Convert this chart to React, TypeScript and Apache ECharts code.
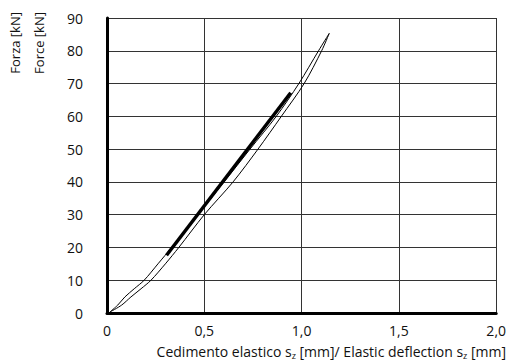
import React, { useEffect, useRef } from "react";
import * as echarts from "echarts";

const xTicks = ["0", "0,5", "1,0", "1,5", "2,0"];
const yTicks = [0, 10, 20, 30, 40, 50, 60, 70, 80, 90];

const loadX = [0.015, 0.075, 0.123, 0.175, 0.226, 0.3, 0.369, 0.5, 0.648, 0.776, 0.896, 1.013, 1.103, 1.142];
const loadY = [0.3, 2.4, 4.9, 7.4, 10, 15, 20, 30, 40, 50, 60, 70, 80, 85.3];

const unloadX = [1.142, 1.087, 0.986, 0.87, 0.735, 0.602, 0.468, 0.332, 0.262, 0.191, 0.14, 0.092, 0.055, 0.015];
const unloadY = [85.3, 80, 70, 60, 50, 40, 30, 20, 15, 10, 7.4, 4.9, 2.4, 0.3];

const thickX = [0.306, 0.944];
const thickY = [17.6, 67.2];

const FONT = "Open Sans";

export default function App() {
  const ref = useRef<HTMLDivElement>(null);
  useEffect(() => {
    if (!ref.current) return;
    const chart = echarts.init(ref.current, undefined, { renderer: "svg" });
    const zip = (xs: number[], ys: number[]) => xs.map((x, i) => [x, ys[i]]);
    chart.setOption({
      animation: false,
      backgroundColor: "#fff",
      textStyle: { fontFamily: FONT },
      grid: { left: 107, right: 12, top: 18, bottom: 48 },
      xAxis: {
        type: "value",
        min: 0,
        max: 2,
        interval: 0.5,
        axisLine: { show: true, lineStyle: { color: "#000", width: 3 } },
        axisTick: { show: false },
        axisLabel: {
          color: "#111",
          fontSize: 14,
          fontFamily: FONT,
          margin: 10,
          formatter: (v: number) => xTicks[Math.round(v / 0.5)] ?? "",
        },
        splitLine: { show: true, lineStyle: { color: "#333", width: 1 } },
      },
      yAxis: {
        type: "value",
        min: 0,
        max: 90,
        interval: 10,
        axisLine: { show: true, lineStyle: { color: "#000", width: 3 } },
        axisTick: { show: false },
        axisLabel: {
          color: "#111",
          fontSize: 14,
          fontFamily: FONT,
          margin: 24,
          formatter: (v: number) => (yTicks.includes(v) ? String(v) : ""),
        },
        splitLine: { show: true, lineStyle: { color: "#333", width: 1 } },
      },
      graphic: [
        {
          type: "text",
          x: 506,
          y: 351,
          style: {
            text: "{n|Cedimento elastico s}{s|z}{n| [mm]/ Elastic deflection s}{s|z}{n| [mm]}",
            align: "right",
            verticalAlign: "middle",
            fill: "#111",
            fontFamily: FONT,
            rich: {
              n: { fontSize: 14, fontFamily: FONT, fill: "#111", lineHeight: 17 },
              s: { fontSize: 9, fontFamily: FONT, fill: "#111", padding: [8, 0, 0, 0] },
            },
          },
        },
        {
          type: "text",
          x: 15,
          y: 12,
          rotation: Math.PI / 2,
          style: {
            text: "Forza [kN]",
            align: "right",
            verticalAlign: "middle",
            fontSize: 13,
            fontFamily: FONT,
            fill: "#111",
          },
        },
        {
          type: "text",
          x: 39,
          y: 12,
          rotation: Math.PI / 2,
          style: {
            text: "Force [kN]",
            align: "right",
            verticalAlign: "middle",
            fontSize: 13,
            fontFamily: FONT,
            fill: "#111",
          },
        },
      ],
      series: [
        {
          type: "line",
          data: zip(loadX, loadY),
          showSymbol: false,
          smooth: 0.3,
          lineStyle: { color: "#000", width: 1 },
        },
        {
          type: "line",
          data: zip(unloadX, unloadY),
          showSymbol: false,
          smooth: 0.3,
          lineStyle: { color: "#000", width: 1 },
        },
        {
          type: "line",
          data: zip(thickX, thickY),
          showSymbol: false,
          lineStyle: { color: "#000", width: 3.5 },
        },
      ],
    });
    return () => chart.dispose();
  }, []);
  return (
    <div
      ref={ref}
      style={{ position: "fixed", left: 0, top: 0, width: 509, height: 361 }}
    />
  );
}
